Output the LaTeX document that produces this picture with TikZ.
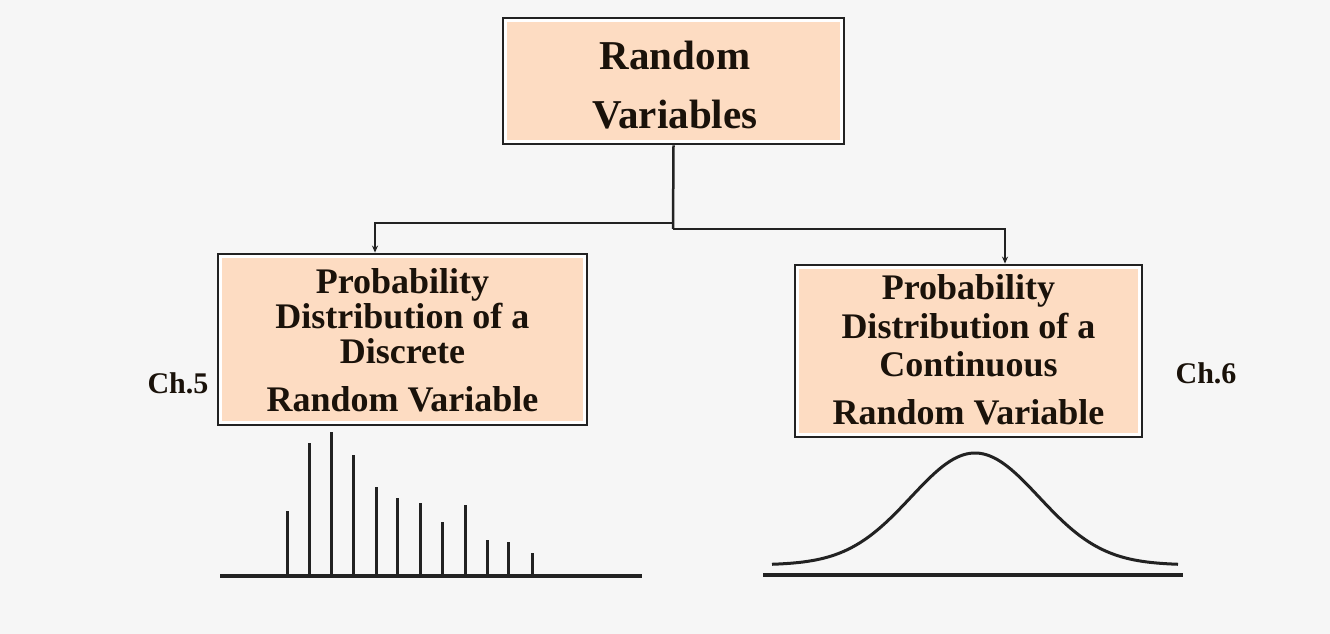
\documentclass[tikz,border=0pt]{standalone}
\usepackage{fontspec}
\setmainfont{Liberation Serif}
\usetikzlibrary{arrows.meta}
\definecolor{peach}{HTML}{FDDCC2}
\definecolor{ink}{HTML}{1A120A}
\definecolor{bg}{HTML}{F6F6F6}
\definecolor{edge}{HTML}{222222}
\begin{document}
\begin{tikzpicture}[x=1pt,y=-1pt,
  box/.style={draw=edge, line width=2.8pt, fill=white, inner sep=0pt,
    path picture={\fill[peach] ([shift={(3.8pt,-3.8pt)}]path picture bounding box.north west) rectangle ([shift={(-3.8pt,3.8pt)}]path picture bounding box.south east);}},
  lbl/.style={text=ink, align=center, inner sep=0pt},
  link/.style={draw=edge, line width=2.5pt},
  conn/.style={link, -{Stealth[length=7pt,width=6pt]}},
  bar/.style={draw=edge, line width=3pt},
  axis/.style={draw=edge, line width=3.5pt},
  curve/.style={draw=edge, line width=3pt}]
\fill[bg] (0,0) rectangle (1330,634);
\useasboundingbox (0,0) rectangle (1330,634);

% boxes
\node[box, minimum width=341pt, minimum height=126pt] (top) at (673.5,81) {};
\node[lbl, font=\bfseries\fontsize{41}{59}\selectfont] (toptxt) at (675,85) {Random\\Variables};

\node[box, minimum width=369pt, minimum height=171pt] (lbox) at (402.5,339.5) {};
\node[lbl, font=\bfseries\fontsize{36}{35}\selectfont] (ltxt) at (402.5,340.5) {Probability\\Distribution of a\\Discrete\\[13pt]Random Variable};

\node[box, minimum width=347pt, minimum height=172pt] (rbox) at (968.5,351) {};
\node[lbl, font=\bfseries\fontsize{36}{38.5}\selectfont] (rtxt) at (968.5,350) {Probability\\Distribution of a\\Continuous\\[9.5pt]Random Variable};

% chapter labels
\node[lbl, font=\bfseries\fontsize{30}{30}\selectfont] (ch5) at (178,383) {Ch.5};
\node[lbl, font=\bfseries\fontsize{30}{30}\selectfont] (ch6) at (1206,373) {Ch.6};

% connectors
\coordinate (jl) at (673,223);
\coordinate (jr) at (673,229);
\draw[link] (top.south) -- (jr);
\draw[conn] (jl) -| ([xshift=-27.5pt]lbox.north);
\draw[conn] (jr) -| ([xshift=36.5pt]rbox.north);

% discrete distribution
\draw[axis] (220,576) -- (642,576);
\foreach \xx/\hh in {287/511,309/443,331/432,353/455,376/487,397/498,420/503,442/522,465/505,487/540,508/542,532/553}
  \draw[bar] (\xx,576) -- (\xx,\hh);

% continuous distribution
\draw[axis] (763,575) -- (1183,575);
\draw[curve] plot[domain=772:1178,samples=120] (\x,{565-112*exp(-0.5*((\x-975)/64)*((\x-975)/64))});
\end{tikzpicture}
\end{document}
